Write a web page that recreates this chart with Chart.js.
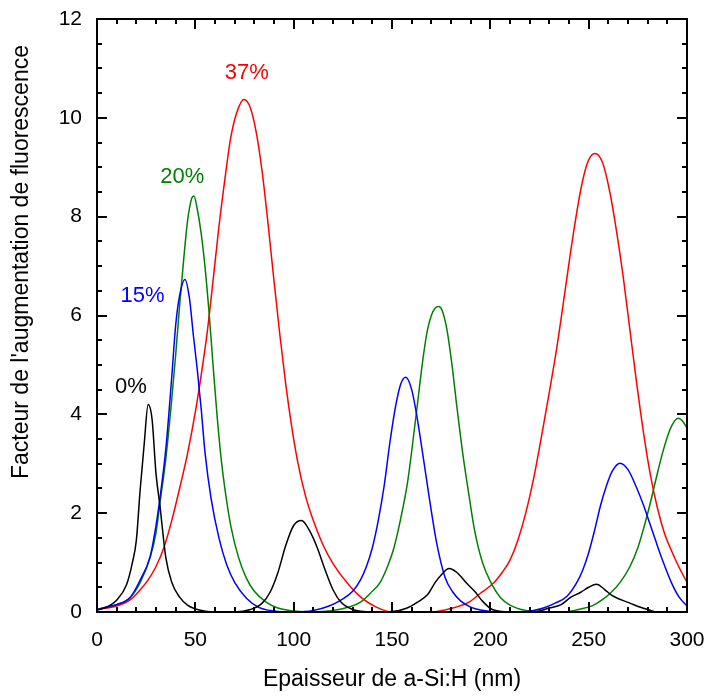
<!DOCTYPE html>
<html>
<head>
<meta charset="utf-8">
<script src="https://cdn.jsdelivr.net/npm/chart.js@4.4.1/dist/chart.umd.min.js"></script>
<style>
  html, body { margin: 0; padding: 0; background: #fff; }
</style>
</head>
<body>
<canvas id="chart" width="710" height="697"></canvas>
<script>
/* =============================
   DATA (thickness nm -> enhancement factor)
============================= */
const x0 = [0, 5, 10, 15, 18, 20, 22, 24, 26, 28, 30, 32, 35, 38, 42, 46, 52, 60, 70, 78, 84, 88, 92, 96, 100, 104, 108, 112, 116, 120, 124, 130, 140, 150, 157, 163, 168, 172, 175, 179, 183, 188, 192, 196, 201, 210, 222, 230, 236, 241, 246, 250, 254, 258, 262, 267, 271, 276, 280, 285, 292, 300];
const y0 = [0.04, 0.1, 0.24, 0.55, 1.0, 1.45, 2.5, 3.4, 4.2, 3.9, 2.8, 2.15, 1.1, 0.6, 0.3, 0.14, 0.04, 0, 0, 0.05, 0.18, 0.4, 0.8, 1.35, 1.75, 1.85, 1.65, 1.3, 0.85, 0.45, 0.2, 0.05, 0, 0.01, 0.07, 0.2, 0.35, 0.6, 0.75, 0.88, 0.8, 0.58, 0.42, 0.22, 0.05, 0, 0, 0.08, 0.15, 0.3, 0.4, 0.5, 0.56, 0.46, 0.33, 0.24, 0.18, 0.1, 0.05, 0, 0, 0];

const x15 = [0, 5, 10, 17, 22, 27, 30, 32, 35, 38, 40, 42, 44.7, 47, 49, 51, 53, 55, 58, 62, 66, 70, 76, 82, 90, 100, 110, 118, 124, 130, 134, 137, 140, 143, 146, 149, 152, 154.5, 157, 160, 162.5, 166, 169, 172.7, 177, 181, 185, 190, 195, 205, 215, 222, 227, 233, 239, 244, 247, 250, 253, 256, 259, 262, 266, 270, 274, 278, 281, 284, 288, 292, 296, 300];
const y15 = [0.05, 0.1, 0.15, 0.3, 0.65, 1.12, 1.75, 2.3, 3.3, 4.75, 5.8, 6.4, 6.73, 6.35, 5.6, 4.9, 4.1, 3.2, 2.3, 1.5, 0.95, 0.6, 0.28, 0.1, 0.02, 0, 0.03, 0.12, 0.24, 0.42, 0.65, 0.92, 1.3, 1.85, 2.55, 3.45, 4.2, 4.62, 4.75, 4.5, 4.0, 3.1, 2.3, 1.4, 0.7, 0.4, 0.22, 0.1, 0.04, 0, 0, 0.03, 0.08, 0.18, 0.32, 0.6, 0.85, 1.2, 1.65, 2.15, 2.55, 2.85, 3.01, 2.88, 2.55, 2.15, 1.8, 1.45, 1.0, 0.6, 0.3, 0.12];

const x20 = [0, 5, 10, 17, 22, 27, 30, 32, 35, 38, 40, 42, 44, 46, 48, 49.3, 51, 53, 55, 57, 59, 61, 63, 65, 68, 72, 76, 80, 86, 92, 100, 110, 120, 128, 134, 139, 144, 148, 151, 155, 158, 162, 166, 168, 170, 172, 173.7, 175.5, 178, 180.5, 183, 186, 189, 192, 196, 200, 205, 210, 218, 228, 238, 246, 252, 257, 261, 266, 271, 275, 278, 281, 284, 288, 292, 295.6, 298, 300];
const y20 = [0.05, 0.1, 0.15, 0.3, 0.6, 1.1, 1.6, 2.2, 3.1, 4.3, 5.2, 6.2, 7.1, 7.9, 8.35, 8.42, 8.15, 7.65, 6.95, 6.05, 5.0, 4.0, 3.15, 2.5, 1.75, 1.1, 0.68, 0.42, 0.2, 0.08, 0.02, 0, 0.03, 0.1, 0.2, 0.38, 0.6, 0.95, 1.3, 2.0, 2.65, 3.9, 5.2, 5.7, 6.0, 6.15, 6.18, 6.1, 5.7, 5.0, 4.15, 3.2, 2.4, 1.65, 1.0, 0.62, 0.3, 0.14, 0.03, 0, 0, 0.06, 0.13, 0.25, 0.38, 0.6, 0.92, 1.3, 1.7, 2.15, 2.65, 3.28, 3.75, 3.92, 3.85, 3.72];

const x37 = [0, 10, 17, 22, 26, 30, 34, 38, 42, 46, 50, 53, 56, 59, 62, 65, 68, 71, 74.7, 78, 81, 84, 87, 90, 93, 96, 99, 102, 106, 110, 115, 120, 128, 135, 142, 150, 160, 170, 180, 189.6, 195, 201.5, 206, 210, 214, 218, 222, 226, 230, 234, 238, 242, 246, 249.5, 253.2, 257, 260.5, 264, 267.5, 271, 274.5, 278, 281.5, 285, 288.5, 292, 296, 300];
const y37 = [0.05, 0.12, 0.25, 0.45, 0.65, 0.92, 1.3, 1.85, 2.5, 3.2, 4.05, 4.8, 5.65, 6.7, 7.8, 8.75, 9.6, 10.1, 10.37, 10.2, 9.7, 8.9, 7.85, 6.7, 5.6, 4.6, 3.75, 3.05, 2.35, 1.85, 1.35, 0.98, 0.55, 0.27, 0.1, 0, 0, 0, 0.07, 0.21, 0.38, 0.58, 0.8, 1.05, 1.45, 2.0, 2.7, 3.55, 4.45, 5.4, 6.5, 7.6, 8.55, 9.1, 9.28, 9.1, 8.55, 7.75, 6.8, 5.7, 4.6, 3.6, 2.75, 2.1, 1.6, 1.25, 0.9, 0.6];

const xTicks = [0, 50, 100, 150, 200, 250, 300];
const yTicks = [0, 2, 4, 6, 8, 10, 12];

// in-plot series labels, placed in data units
const tags = [
  { text: "0%",  x: 17.3, y: 4.55, color: "#000000" },
  { text: "15%", x: 23.1, y: 6.4,  color: "#0000ff" },
  { text: "20%", x: 43.4, y: 8.8,  color: "#008000" },
  { text: "37%", x: 76.2, y: 10.9, color: "#ff0000" }
];

const FONT = "'Liberation Sans', Arial, Helvetica, sans-serif";

function pts(xs, ys) {
  return xs.map((v, i) => ({ x: v, y: ys[i] }));
}

function curve(label, xs, ys, color) {
  return {
    label: label,
    data: pts(xs, ys),
    borderColor: color,
    borderWidth: 1.5,
    pointRadius: 0,
    showLine: true,
    fill: false,
    cubicInterpolationMode: "monotone"
  };
}

/* =============================
   FRAME, INWARD TICKS, TEXT
============================= */
const framePlugin = {
  id: "frame",
  afterDatasetsDraw(chart) {
    const { ctx, chartArea: a, scales } = chart;
    const sx = scales.x, sy = scales.y;
    ctx.save();
    ctx.strokeStyle = "#000";
    ctx.lineWidth = 2;
    ctx.strokeRect(a.left, a.top, a.right - a.left, a.bottom - a.top);

    ctx.beginPath();
    for (let v = 0; v <= 300; v += 10) {
      const px = Math.round(sx.getPixelForValue(v));
      const len = v % 50 === 0 ? 10 : 5;
      ctx.moveTo(px, a.bottom); ctx.lineTo(px, a.bottom - len);
      ctx.moveTo(px, a.top); ctx.lineTo(px, a.top + len);
    }
    for (let v = 0; v <= 12; v += 0.5) {
      const py = Math.round(sy.getPixelForValue(v));
      const len = v % 2 === 0 ? 10 : 5;
      ctx.moveTo(a.left, py); ctx.lineTo(a.left + len, py);
      ctx.moveTo(a.right, py); ctx.lineTo(a.right - len, py);
    }
    ctx.stroke();

    ctx.font = "22px " + FONT;
    ctx.textAlign = "center";
    ctx.textBaseline = "middle";
    tags.forEach(t => {
      ctx.fillStyle = t.color;
      ctx.fillText(t.text, sx.getPixelForValue(t.x), sy.getPixelForValue(t.y));
    });

    // y axis title
    ctx.fillStyle = "#000";
    ctx.font = "23px " + FONT;
    ctx.translate(22, 262);
    ctx.rotate(-Math.PI / 2);
    ctx.fillText("Facteur de l'augmentation de fluorescence", 0, 0);
    ctx.restore();
  }
};

new Chart(document.getElementById("chart"), {
  type: "scatter",
  data: {
    datasets: [
      curve("0%", x0, y0, "#000000"),
      curve("15%", x15, y15, "#0000ff"),
      curve("20%", x20, y20, "#008000"),
      curve("37%", x37, y37, "#ff0000")
    ]
  },
  options: {
    responsive: false,
    animation: false,
    layout: { padding: { left: 0, right: 23, top: 19, bottom: 0 } },
    plugins: { legend: { display: false }, tooltip: { enabled: false } },
    scales: {
      x: {
        type: "linear",
        min: 0,
        max: 300,
        afterFit: s => { s.height = 85; s.paddingLeft = 0; s.paddingRight = 0; },
        afterBuildTicks: s => { s.ticks = xTicks.map(v => ({ value: v })); },
        grid: { display: false, drawTicks: false },
        border: { display: false },
        ticks: { font: { family: FONT, size: 21 }, color: "#000", padding: 16, maxRotation: 0 },
        title: {
          display: true,
          text: "Epaisseur de a-Si:H (nm)",
          font: { family: FONT, size: 23 },
          color: "#000"
        }
      },
      y: {
        type: "linear",
        min: 0,
        max: 12,
        afterFit: s => { s.width = 97; s.paddingTop = 0; s.paddingBottom = 0; },
        afterBuildTicks: s => { s.ticks = yTicks.map(v => ({ value: v })); },
        grid: { display: false, drawTicks: false },
        border: { display: false },
        ticks: { font: { family: FONT, size: 21 }, color: "#000", padding: 15 }
      }
    }
  },
  plugins: [framePlugin]
});
</script>
</body>
</html>
